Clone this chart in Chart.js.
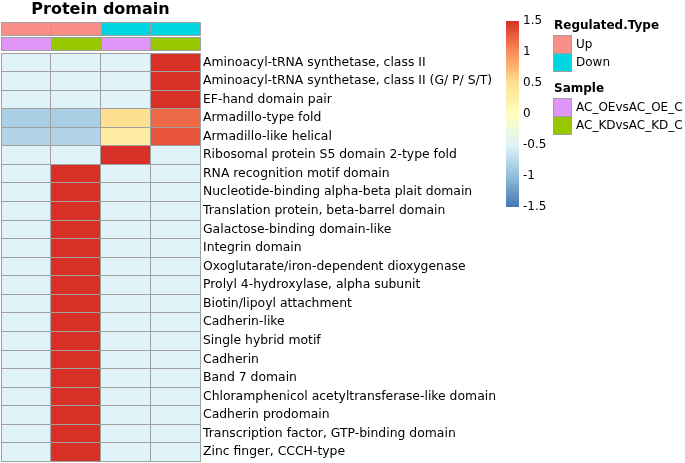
<!DOCTYPE html>
<html>
<head>
<meta charset="utf-8">
<script src="https://cdn.jsdelivr.net/npm/chart.js@4"></script>
<style>
  body { margin: 0; background: #fff; }
  #box { width: 685px; height: 463px; position: relative; }
</style>
</head>
<body>
<div id="box"><canvas id="heat"></canvas></div>
<script>
// domaines (lignes du heatmap)
const domains = [
  'Aminoacyl-tRNA synthetase, class II',
  'Aminoacyl-tRNA synthetase, class II (G/ P/ S/T)',
  'EF-hand domain pair',
  'Armadillo-type fold',
  'Armadillo-like helical',
  'Ribosomal protein S5 domain 2-type fold',
  'RNA recognition motif domain',
  'Nucleotide-binding alpha-beta plait domain',
  'Translation protein, beta-barrel domain',
  'Galactose-binding domain-like',
  'Integrin domain',
  'Oxoglutarate/iron-dependent dioxygenase',
  'Prolyl 4-hydroxylase, alpha subunit',
  'Biotin/lipoyl attachment',
  'Cadherin-like',
  'Single hybrid motif',
  'Cadherin',
  'Band 7 domain',
  'Chloramphenicol acetyltransferase-like domain',
  'Cadherin prodomain',
  'Transcription factor, GTP-binding domain',
  'Zinc finger, CCCH-type'
];

// valeurs (z-score) par colonne
const oeUp   = [-0.5, -0.5, -0.5, -0.85, -0.8, -0.5, -0.5, -0.5, -0.5, -0.5, -0.5, -0.5, -0.5, -0.5, -0.5, -0.5, -0.5, -0.5, -0.5, -0.5, -0.5, -0.5];
const kdUp   = [-0.5, -0.5, -0.5, -0.85, -0.8, -0.5, 1.5, 1.5, 1.5, 1.5, 1.5, 1.5, 1.5, 1.5, 1.5, 1.5, 1.5, 1.5, 1.5, 1.5, 1.5, 1.5];
const oeDown = [-0.5, -0.5, -0.5, 0.5, 0.3, 1.5, -0.5, -0.5, -0.5, -0.5, -0.5, -0.5, -0.5, -0.5, -0.5, -0.5, -0.5, -0.5, -0.5, -0.5, -0.5, -0.5];
const kdDown = [1.5, 1.5, 1.5, 1.2, 1.3, -0.5, -0.5, -0.5, -0.5, -0.5, -0.5, -0.5, -0.5, -0.5, -0.5, -0.5, -0.5, -0.5, -0.5, -0.5, -0.5, -0.5];
const columns = [oeUp, kdUp, oeDown, kdDown];

// annotations des colonnes
const regulatedType = ['Up', 'Up', 'Down', 'Down'];
const sampleType = ['AC_OEvsAC_OE_C', 'AC_KDvsAC_KD_C', 'AC_OEvsAC_OE_C', 'AC_KDvsAC_KD_C'];
const regulatedLevels = ['Up', 'Down'];
const sampleLevels = ['AC_OEvsAC_OE_C', 'AC_KDvsAC_KD_C'];
const regulatedColors = { 'Up': '#fa8f87', 'Down': '#00d5e0' };
const sampleColors = { 'AC_OEvsAC_OE_C': '#e095f8', 'AC_KDvsAC_KD_C': '#98c800' };

// légende couleur
const scaleTicks = [1.5, 1, 0.5, 0, -0.5, -1, -1.5];
const palette = ['#4575b4', '#91bfdb', '#e0f3f8', '#ffffbf', '#fee090', '#fc8d59', '#d73027'];
const vMin = -1.5, vMax = 1.5;

function hexToRgb(h) {
  return [parseInt(h.slice(1, 3), 16), parseInt(h.slice(3, 5), 16), parseInt(h.slice(5, 7), 16)];
}
function colorFor(v) {
  let t = (v - vMin) / (vMax - vMin);
  t = Math.max(0, Math.min(1, t));
  const pos = t * (palette.length - 1);
  const i = Math.min(Math.floor(pos), palette.length - 2);
  const f = pos - i;
  const a = hexToRgb(palette[i]), b = hexToRgb(palette[i + 1]);
  const c = a.map((x, k) => Math.round(x + (b[k] - x) * f));
  return 'rgb(' + c.join(',') + ')';
}

const gridColor = '#a0a0a0';
const font = 'DejaVu Sans';

// dessin du titre, des annotations et des légendes
const extras = {
  id: 'extras',
  afterDraw(chart) {
    const ctx = chart.ctx;
    const xs = chart.scales.x;
    const area = chart.chartArea;
    ctx.save();

    // titre
    ctx.fillStyle = '#000';
    ctx.font = 'bold 16px "' + font + '"';
    ctx.textAlign = 'center';
    ctx.textBaseline = 'middle';
    ctx.fillText('Protein domain', (area.left + area.right) / 2, 10);

    // barres d'annotation
    const bands = [
      { values: regulatedType, colors: regulatedColors, top: area.top - 31, h: 13 },
      { values: sampleType, colors: sampleColors, top: area.top - 16, h: 13 }
    ];
    bands.forEach(b => {
      b.values.forEach((val, i) => {
        const x0 = Math.round(xs.getPixelForValue(i)) + 0.5;
        const x1 = Math.round(xs.getPixelForValue(i + 1)) + 0.5;
        ctx.fillStyle = b.colors[val];
        ctx.fillRect(x0, b.top + 0.5, x1 - x0, b.h);
        ctx.strokeStyle = gridColor;
        ctx.lineWidth = 1;
        ctx.strokeRect(x0, b.top + 0.5, x1 - x0, b.h);
      });
    });

    // barre de couleur
    const cbX = 506, cbTop = 21, cbBot = 207, cbW = 13;
    const grad = ctx.createLinearGradient(0, cbBot, 0, cbTop);
    palette.forEach((c, i) => grad.addColorStop(i / (palette.length - 1), c));
    ctx.fillStyle = grad;
    ctx.fillRect(cbX, cbTop, cbW, cbBot - cbTop);
    ctx.fillStyle = '#000';
    ctx.font = '12px "' + font + '"';
    ctx.textAlign = 'left';
    scaleTicks.forEach(t => {
      const y = cbBot - (t - vMin) / (vMax - vMin) * (cbBot - cbTop);
      ctx.fillText(String(t), cbX + 17, y);
    });

    // légendes catégorielles
    const legends = [
      { title: 'Regulated.Type', levels: regulatedLevels, colors: regulatedColors, top: 26 },
      { title: 'Sample', levels: sampleLevels, colors: sampleColors, top: 89 }
    ];
    legends.forEach(lg => {
      ctx.fillStyle = '#000';
      ctx.font = 'bold 12px "' + font + '"';
      ctx.fillText(lg.title, 554, lg.top);
      lg.levels.forEach((lv, i) => {
        const y0 = lg.top + 9 + i * 18;
        ctx.fillStyle = lg.colors[lv];
        ctx.fillRect(553.5, y0 + 0.5, 18, 18);
        ctx.strokeStyle = gridColor;
        ctx.strokeRect(553.5, y0 + 0.5, 18, 18);
        ctx.fillStyle = '#000';
        ctx.font = '12px "' + font + '"';
        ctx.fillText(lv, 576, y0 + 9.5);
      });
    });

    ctx.restore();
  }
};

const datasets = columns.map((col, j) => ({
  label: regulatedType[j] + ' ' + sampleType[j],
  data: col.map(() => 1),
  backgroundColor: col.map(v => colorFor(v)),
  borderWidth: 0,
  barPercentage: 1,
  categoryPercentage: 1
}));

new Chart(document.getElementById('heat'), {
  type: 'bar',
  data: { labels: domains, datasets: datasets },
  options: {
    indexAxis: 'y',
    responsive: true,
    maintainAspectRatio: false,
    animation: false,
    events: [],
    layout: { padding: { left: 1, top: 53, bottom: 1.5, right: 0 } },
    plugins: { legend: { display: false }, tooltip: { enabled: false }, title: { display: false } },
    scales: {
      x: {
        type: 'linear', min: 0, max: 4, stacked: true,
        ticks: { display: false, stepSize: 1 },
        grid: { color: gridColor, drawTicks: false, z: 1 },
        border: { display: false },
        afterFit(scale) { scale.height = 0; scale.paddingLeft = 0; scale.paddingRight = 0; }
      },
      y: {
        type: 'category', position: 'right', stacked: true,
        grid: { color: gridColor, drawTicks: false, offset: true, z: 1 },
        border: { display: false },
        ticks: { color: '#000', padding: 3, font: { family: font, size: 12.4 }, autoSkip: false },
        afterFit(scale) { scale.width = 485; scale.paddingTop = 0; scale.paddingBottom = 0; }
      }
    }
  },
  plugins: [extras]
});
</script>
</body>
</html>
